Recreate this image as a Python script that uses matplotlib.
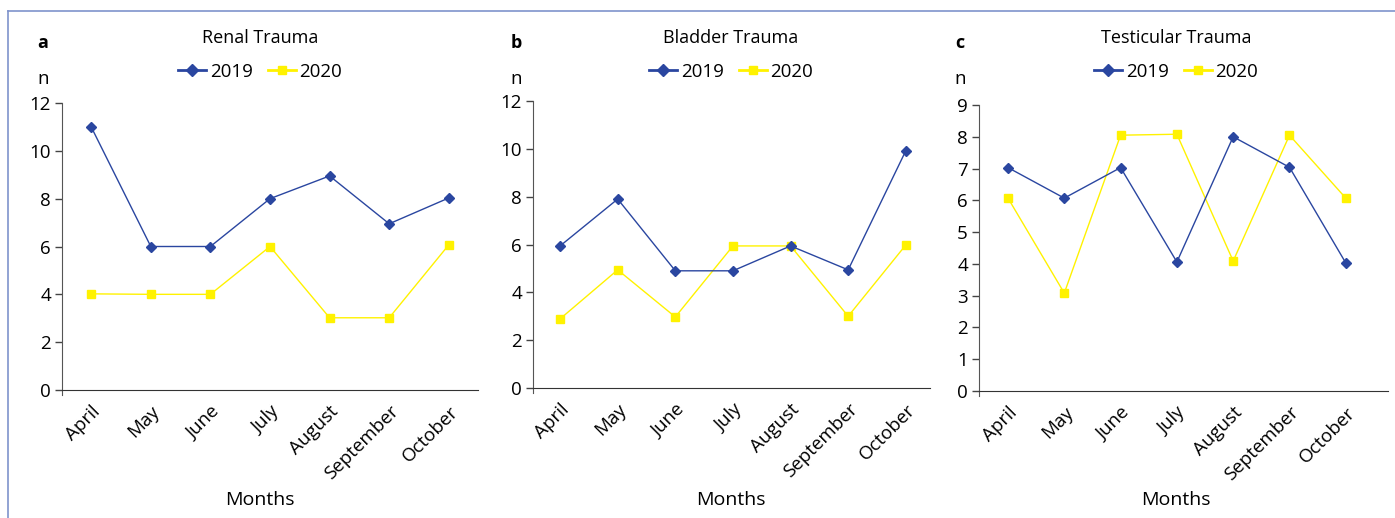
import matplotlib
matplotlib.use("Agg")
import matplotlib.pyplot as plt
from matplotlib.lines import Line2D

plt.rcParams["font.family"] = ["Open Sans", "DejaVu Sans"]

# Data
months = ["April", "May", "June", "July", "August", "September", "October"]
titles = ["Renal Trauma", "Bladder Trauma", "Testicular Trauma"]
letters = ["a", "b", "c"]

renal_2019 = [11, 6, 6, 8, 8.95, 6.95, 8.03]
renal_2020 = [4.02, 4, 4, 6, 3.02, 3.02, 6.07]
bladder_2019 = [5.94, 7.9, 4.9, 4.9, 5.94, 4.94, 9.92]
bladder_2020 = [2.89, 4.94, 2.97, 5.94, 5.94, 3.0, 5.98]
testis_2019 = [7.03, 6.07, 7.03, 4.06, 8.0, 7.04, 4.03]
testis_2020 = [6.07, 3.08, 8.05, 8.08, 4.09, 8.05, 6.07]

series = [(renal_2019, renal_2020), (bladder_2019, bladder_2020), (testis_2019, testis_2020)]
ymax = [12, 12, 9]
ysteps = [2, 2, 1]

blue = "#2a46a0"
yellow = "#fff200"

W, H = 1395, 518
fig = plt.figure(figsize=(W / 100, H / 100), dpi=100)

# axes boxes in pixels: left, right, bottom, top
boxes = [(62, 478, 390, 103), (533, 930, 388, 101), (979, 1388, 391, 105)]
xlims = [(-0.49, 6.49), (-0.47, 6.42), (-0.515, 6.75)]
centers = [260, 731, 1176]
letter_x = [43, 516, 960]

leg_handles = [
    Line2D([], [], color=blue, lw=2, marker="D", ms=6, mfc=blue, mec=blue),
    Line2D([], [], color=yellow, lw=2, marker="s", ms=6, mfc=yellow, mec=yellow),
]

for i in range(3):
    l, r, b, t = boxes[i]
    ax = fig.add_axes([l / W, 1 - b / H, (r - l) / W, (b - t) / H])
    s19, s20 = series[i]
    x = range(len(months))
    ax.plot(x, s19, color=blue, lw=1.0, marker="D", ms=5.5, mfc=blue, mec=blue,
            clip_on=False, zorder=3)
    ax.plot(x, s20, color=yellow, lw=1.0, marker="s", ms=6, mfc=yellow, mec=yellow,
            clip_on=False, zorder=2)
    ax.set_xlim(*xlims[i])
    ax.set_ylim(0, ymax[i])
    ax.set_yticks(range(0, ymax[i] + 1, ysteps[i]))
    ax.set_xticks(list(x))
    ax.set_xticklabels(months, rotation=45, ha="right", rotation_mode="anchor")
    ax.tick_params(axis="x", length=0, pad=9, labelsize=13.5)
    ax.tick_params(axis="y", length=5, width=1, color="#444", pad=3, labelsize=13.5)
    for sp in ["top", "right"]:
        ax.spines[sp].set_visible(False)
    ax.spines["left"].set_color("#555")
    ax.spines["bottom"].set_color("#333")
    ax.spines["left"].set_bounds(-0.018 * ymax[i], ymax[i])
    ax.spines["left"].set_clip_on(False)

    fig.text(centers[i] / W, 1 - 38 / H, titles[i], ha="center", va="center", fontsize=13)
    fig.text(letter_x[i] / W, 1 - 43 / H, letters[i], ha="center", va="center",
             fontsize=13, fontweight="bold")
    fig.text(letter_x[i] / W, 1 - 79 / H, "n", ha="center", va="center", fontsize=13.5)
    fig.text(centers[i] / W, 1 - 500 / H, "Months", ha="center", va="center", fontsize=14)
    ax.legend(leg_handles, ["2019", "2020"], loc="center",
              bbox_to_anchor=(centers[i] / W, 1 - 72 / H),
              bbox_transform=fig.transFigure, ncol=2, frameon=False, fontsize=13.5,
              handlelength=1.5, handletextpad=0.2, columnspacing=0.8, borderpad=0)

# frame lines at left and top
fig.add_artist(Line2D([8 / W, 8 / W], [0, 1 - 11 / H], transform=fig.transFigure,
                      color="#7f93cc", lw=1.2))
fig.add_artist(Line2D([8 / W, 1], [1 - 11 / H, 1 - 11 / H], transform=fig.transFigure,
                      color="#7f93cc", lw=1.2))

fig.savefig("out.png", dpi=100)
